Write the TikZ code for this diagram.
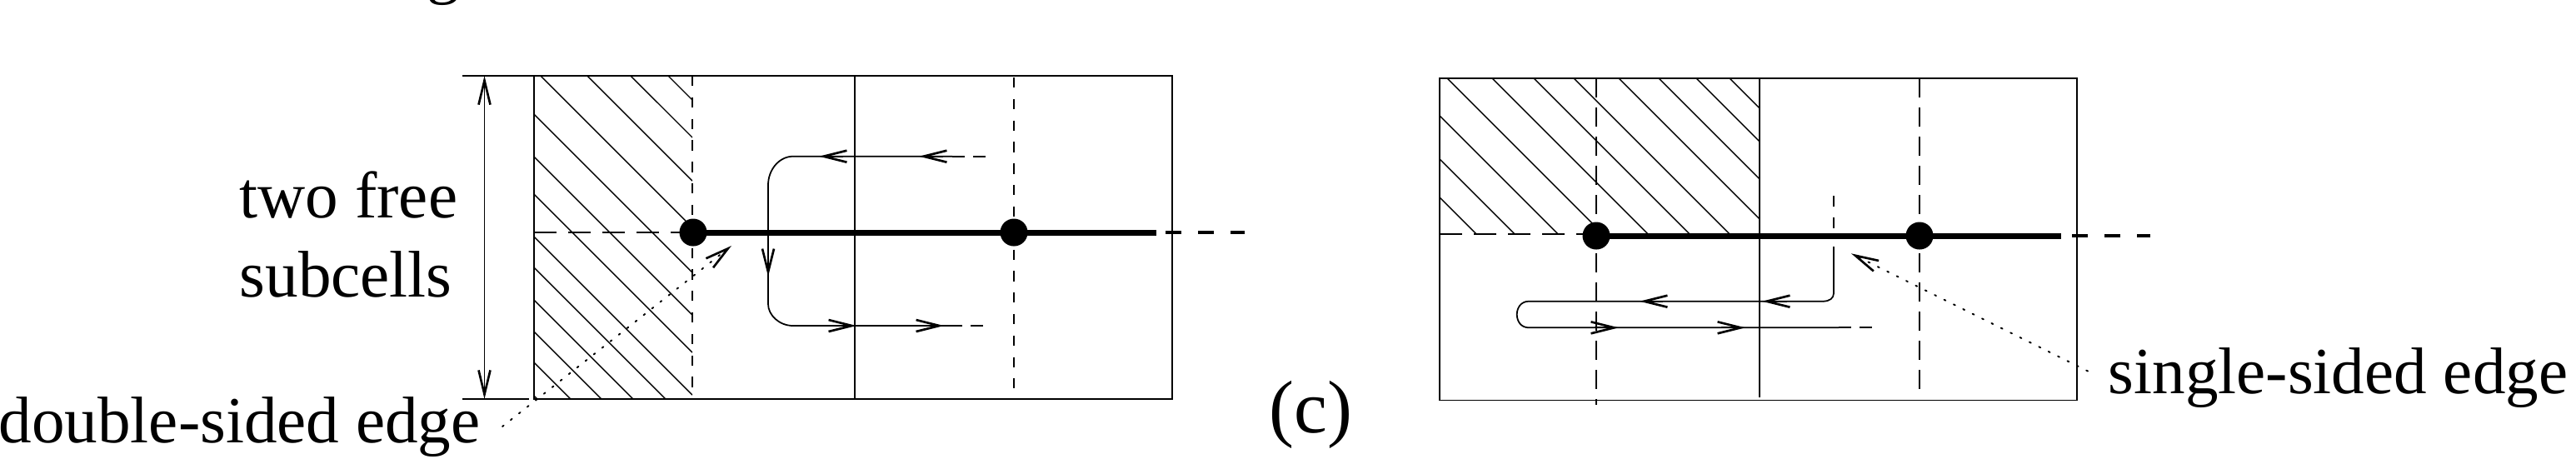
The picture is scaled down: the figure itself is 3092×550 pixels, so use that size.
\documentclass[tikz,border=0pt]{standalone}
\usepackage{fontspec}
\setmainfont{Liberation Serif}
\usetikzlibrary{arrows.meta}
\begin{document}
\begin{tikzpicture}[x=0.01cm,y=-0.01cm,
  cellline/.style={line width=0.45pt},
  celldashL/.style={line width=0.45pt, dash pattern=on 0.123cm off 0.135cm},
  celldashR/.style={line width=0.5pt, dash pattern=on 0.23cm off 0.12cm},
  hdash/.style={line width=0.5pt, dash pattern=on 0.27cm off 0.14cm},
  hatchline/.style={line width=0.4pt},
  edgeline/.style={line width=2pt},
  edgedash/.style={line width=1.2pt, dash pattern=on 0.19cm off 0.2cm},
  pathline/.style={line width=0.5pt},
  pathdash/.style={line width=0.5pt, dash pattern=on 0.15cm off 0.1cm},
  tipbarb/.style={-{Straight Barb[length=0.28cm,width=0.14cm,line width=0.75pt]}},
  leader/.style={line width=0.55pt, dash pattern=on 0.02cm off 0.107cm, line cap=round},
  dotnode/.style={circle, fill=black, inner sep=0pt, minimum size=0.33cm},
  lbl/.style={font=\fontsize{22.5}{27}\selectfont, inner sep=0pt, anchor=base west},
  biglbl/.style={font=\fontsize{25.5}{30}\selectfont, inner sep=0pt, anchor=base west}
]
\useasboundingbox (0,0) rectangle (3092,550);

% cropped caption fragment at the top
\node[lbl] (frag) at (512,-11) {g};

% ================= left figure =================
\begin{scope}
  \clip (641,91) rectangle (831,479);
  \foreach \c in {-711,-666,-614,-558,-504,-453,-408,-357,-320,-281,-243,-206,-166}
    \draw[hatchline] ({641},{641+(\c)}) -- ({831},{831+(\c)});
\end{scope}
\draw[cellline] (641,91) rectangle (1407,479);
\draw[cellline] (555,91) -- (641,91);
\draw[cellline] (555,479) -- (635,479);
\coordinate (dimT) at (581.5,91);
\coordinate (dimB) at (581.5,479);
\draw[cellline, {Straight Barb[length=0.29cm,width=0.14cm,line width=0.75pt]}-{Straight Barb[length=0.29cm,width=0.14cm,line width=0.75pt]}] (dimT) -- (dimB);
\draw[celldashL] (831,91) -- (831,479);
\draw[celldashL] (1217,93) -- (1217,466);
\draw[cellline] (1026,91) -- (1026,479);
\draw[hdash] (641,279) -- (816,279);

\coordinate (L1) at (832,279);
\coordinate (L2) at (1217,279);
\coordinate (LE) at (1388,279);
\draw[edgeline] (L1) -- (LE);
\draw[edgedash] (1399,279) -- (1494,279);

% loop path (left)
\draw[pathline] (1143,187.7) -- (952,187.7) .. controls (935,187.7) and (922,204) .. (922,222)
   -- (922,365) .. controls (922,378) and (935,391) .. (952,391) -- (1140,391);
\draw[pathdash] (1143,187.7) -- (1188,187.7);
\draw[pathdash] (1140,391) -- (1188,391);
\draw[pathline,tipbarb] (1012,187.7) -- (983,187.7);
\draw[pathline,tipbarb] (1132,187.7) -- (1103,187.7);
\draw[pathline,tipbarb] (922,300) -- (922,332);
\draw[pathline,tipbarb] (999,391) -- (1028,391);
\draw[pathline,tipbarb] (1104,391) -- (1133,391);

\node[dotnode] (dotL1) at (L1) {};
\node[dotnode] (dotL2) at (L2) {};

\coordinate (LLs) at (603,512);
\coordinate (LLt) at (878,295);
\draw[leader, tipbarb] (LLs) -- (LLt);

\node[lbl] (two) at (287,261) {two free};
\node[lbl] (sub) at (287,356) {subcells};
\node[lbl] (dbl) at (-2,531) {double-sided edge};
\node[biglbl] (cap) at (1523,519) {(c)};

% ================= right figure =================
\begin{scope}
  \clip (1728,94) rectangle (2112,281);
  \foreach \c in {-1982,-1942,-1897,-1849,-1795,-1747,-1697,-1643,-1589,-1537,-1491}
    \draw[hatchline] ({1728},{1728+(\c)}) -- ({2112},{2112+(\c)});
\end{scope}
\draw[cellline] (1728,94) rectangle (2493,480.5);
\draw[celldashR] (1916,94) -- (1916,486);
\draw[celldashR] (2304,94) -- (2304,468);
\draw[cellline] (2112,94) -- (2112,477);
\draw[hdash] (1728,281) -- (1900,281);

\coordinate (R1) at (1916,283);
\coordinate (R2) at (2304,283);
\coordinate (RE) at (2474,283);
\draw[edgeline] (R1) -- (RE);
\draw[edgedash] (2487,283) -- (2581,283);

\draw[line width=0.45pt, dash pattern=on 0.13cm off 0.13cm] (2201,235) -- (2201,275);
\draw[pathline] (2201,296) -- (2201,352) .. controls (2201,358) and (2196,361.7) .. (2188,361.7)
   -- (1835,361.7) .. controls (1816,361.7) and (1816,393.3) .. (1835,393.3) -- (2207,393.3);
\draw[pathdash] (2207,393.3) -- (2250,393.3);
\draw[pathline,tipbarb] (2145,361.7) -- (2115,361.7);
\draw[pathline,tipbarb] (1996,361.7) -- (1968,361.7);
\draw[pathline,tipbarb] (1914,393.3) -- (1943,393.3);
\draw[pathline,tipbarb] (2066,393.3) -- (2095,393.3);

\node[dotnode] (dotR1) at (R1) {};
\node[dotnode] (dotR2) at (R2) {};

\coordinate (RLs) at (2506,445.5);
\coordinate (RLt) at (2222,304.3);
\draw[leader, tipbarb] (RLs) -- (RLt);

\node[lbl] (sgl) at (2530,472) {single-sided edge};
\end{tikzpicture}
\end{document}
